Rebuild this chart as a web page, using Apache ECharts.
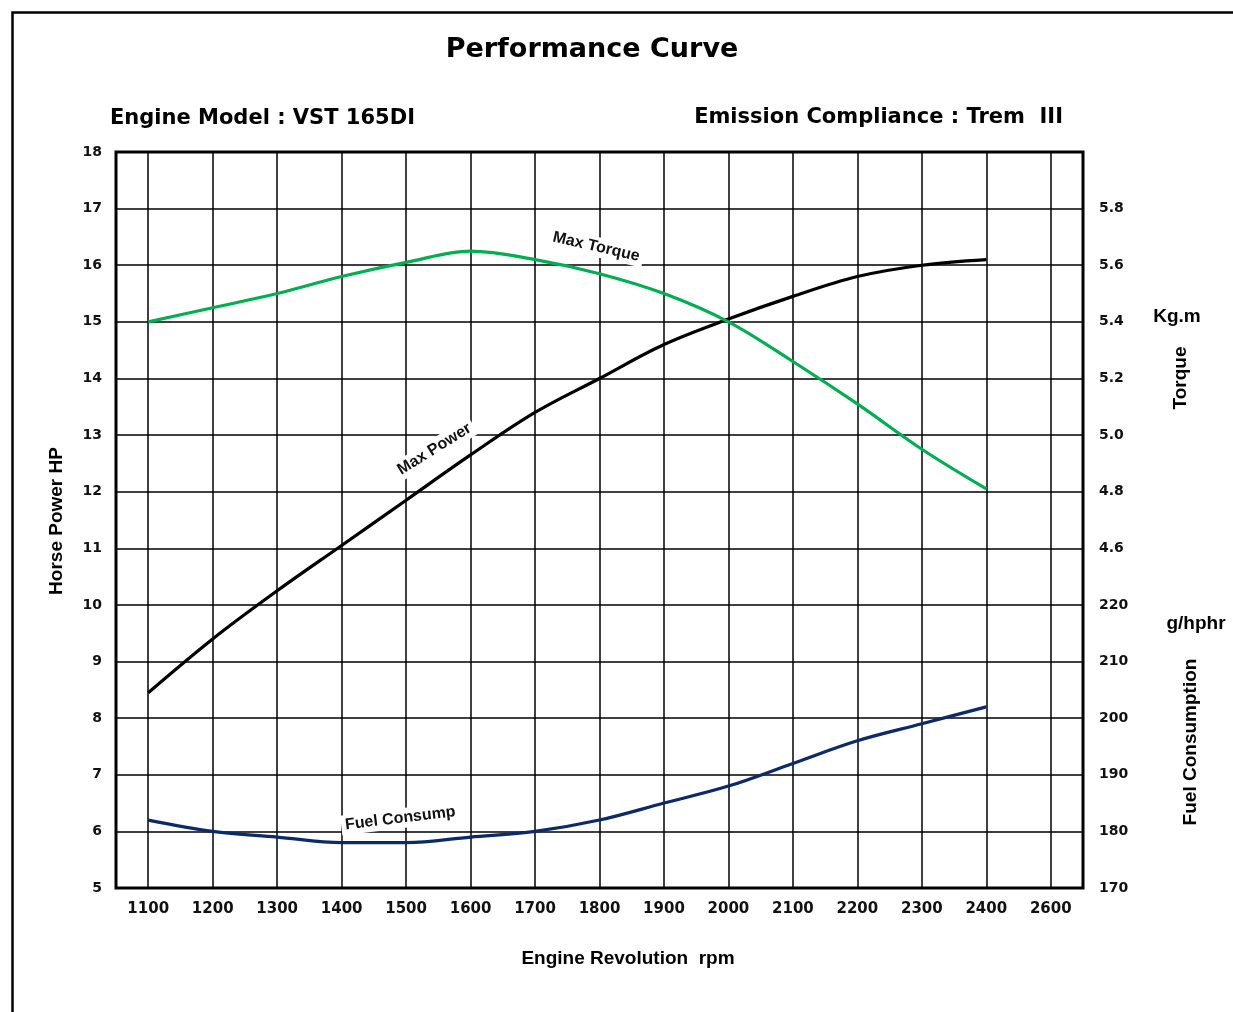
<!DOCTYPE html>
<html>
<head>
<meta charset="utf-8">
<script src="https://cdn.jsdelivr.net/npm/echarts@6/dist/echarts.min.js"></script>
<style>html,body{margin:0;padding:0;background:#fff}#c{width:1233px;height:1012px}</style>
</head>
<body>
<div id="c"></div>
<script>
const rpm = [1100, 1200, 1300, 1400, 1500, 1600, 1700, 1800, 1900, 2000, 2100, 2200, 2300, 2400];
const maxPowerHP = [8.45, 9.4, 10.25, 11.05, 11.85, 12.65, 13.4, 14.0, 14.6, 15.05, 15.45, 15.8, 16.0, 16.1];
const maxTorqueKgm = [5.40, 5.45, 5.50, 5.56, 5.61, 5.65, 5.62, 5.57, 5.50, 5.40, 5.26, 5.11, 4.95, 4.81];
const fuelGphphr = [182, 180, 179, 178, 178, 179, 180, 182, 185, 188, 192, 196, 199, 202];
const rpmTicks = [1100, 1200, 1300, 1400, 1500, 1600, 1700, 1800, 1900, 2000, 2100, 2200, 2300, 2400, 2500];
const rpmTickText = ['1100', '1200', '1300', '1400', '1500', '1600', '1700', '1800', '1900', '2000', '2100', '2200', '2300', '2400', '2600'];
const torqueLabels = [4.6, 4.8, 5.0, 5.2, 5.4, 5.6, 5.8];
const fuelLabels = [170, 180, 190, 200, 210, 220];

const pair = (xs, ys) => xs.map((x, i) => [x, ys[i]]);
const axisFont = { fontFamily: 'DejaVu Sans', fontWeight: 'bold', fontSize: 14, color: '#111' };
const curveLabel = (text, rot) => ({
  show: true, position: 'inside', formatter: text, rotate: rot,
  fontFamily: 'Liberation Sans', fontWeight: 'bold', fontSize: 16, color: '#111',
  backgroundColor: '#fff', padding: [2, 4]
});
const nameFont = 'bold 19px "Liberation Sans"';

const chart = echarts.init(document.getElementById('c'), null, { renderer: 'canvas' });
chart.setOption({
  backgroundColor: '#fff',
  animation: false,
  grid: { left: 116, right: 150, top: 152, bottom: 124, show: true, borderColor: '#000', borderWidth: 3, backgroundColor: 'transparent', z: 5 },
  xAxis: {
    type: 'value', min: 1050, max: 2550,
    axisLine: { show: false },
    axisTick: { show: false, customValues: rpmTicks },
    splitLine: { show: true, lineStyle: { color: '#000', width: 1.5 } },
    axisLabel: {
      customValues: rpmTicks, margin: 14, ...axisFont, fontSize: 15,
      formatter: v => { const i = rpmTicks.indexOf(Math.round(v)); return i >= 0 ? rpmTickText[i] : ''; }
    }
  },
  yAxis: [
    {
      type: 'value', min: 5, max: 18, interval: 1, position: 'left',
      axisLine: { show: false }, axisTick: { show: false },
      splitLine: { show: true, lineStyle: { color: '#000', width: 1.5 } },
      axisLabel: { margin: 14, ...axisFont }
    },
    {
      type: 'value', min: 3.4, max: 6.0, interval: 0.2, position: 'right',
      axisLine: { show: false }, axisTick: { show: false }, splitLine: { show: false },
      axisLabel: {
        margin: 16, ...axisFont,
        formatter: v => torqueLabels.some(t => Math.abs(t - v) < 1e-6) ? v.toFixed(1) : ''
      }
    },
    {
      type: 'value', min: 170, max: 300, interval: 10, position: 'right',
      axisLine: { show: false }, axisTick: { show: false }, splitLine: { show: false },
      axisLabel: {
        margin: 16, ...axisFont,
        formatter: v => fuelLabels.indexOf(Math.round(v)) >= 0 ? String(Math.round(v)) : ''
      }
    }
  ],
  series: [
    {
      name: 'Max Power', type: 'line', yAxisIndex: 0, data: pair(rpm, maxPowerHP),
      smooth: 0.35, symbol: 'none', lineStyle: { color: '#000', width: 3.2 }, z: 3,
      markPoint: { symbol: 'circle', symbolSize: 1, itemStyle: { color: 'rgba(0,0,0,0)' },
        data: [{ coord: [1544, 12.75], label: curveLabel('Max Power', 32) }] }
    },
    {
      name: 'Max Torque', type: 'line', yAxisIndex: 1, data: pair(rpm, maxTorqueKgm),
      smooth: 0.35, symbol: 'none', lineStyle: { color: '#00b050', width: 3.2 }, z: 3,
      markPoint: { symbol: 'circle', symbolSize: 1, itemStyle: { color: 'rgba(0,0,0,0)' },
        data: [{ coord: [1795, 5.665], label: curveLabel('Max Torque', -13) }] }
    },
    {
      name: 'Fuel Consump', type: 'line', yAxisIndex: 2, data: pair(rpm, fuelGphphr),
      smooth: 0.35, symbol: 'none', lineStyle: { color: '#0b2a6b', width: 3.2 }, z: 3,
      markPoint: { symbol: 'circle', symbolSize: 1, itemStyle: { color: 'rgba(0,0,0,0)' },
        data: [{ coord: [1491, 182.3], label: curveLabel('Fuel Consump', 7) }] }
    }
  ],
  graphic: [
    { type: 'rect', left: 10, top: 10, shape: { width: 1300, height: 1100 }, style: { fill: 'none', stroke: '#000', lineWidth: 2.5 }, silent: true },
    { type: 'text', x: 592, y: 50, style: { text: 'Performance Curve', font: 'bold 27px "DejaVu Sans"', fill: '#000', textAlign: 'center', textVerticalAlign: 'middle' } },
    { type: 'text', x: 110, y: 119, style: { text: 'Engine Model : VST 165DI', font: 'bold 21px "DejaVu Sans"', fill: '#000', textAlign: 'left', textVerticalAlign: 'middle' } },
    { type: 'text', x: 1063, y: 118, style: { text: 'Emission Compliance : Trem  III', font: 'bold 21px "DejaVu Sans"', fill: '#000', textAlign: 'right', textVerticalAlign: 'middle' } },
    { type: 'text', x: 628, y: 959, style: { text: 'Engine Revolution  rpm', font: nameFont, fill: '#000', textAlign: 'center', textVerticalAlign: 'middle' } },
    { type: 'text', x: 57, y: 521, rotation: Math.PI / 2, style: { text: 'Horse Power HP', font: nameFont, fill: '#000', textAlign: 'center', textVerticalAlign: 'middle' } },
    { type: 'text', x: 1177, y: 317, style: { text: 'Kg.m', font: nameFont, fill: '#000', textAlign: 'center', textVerticalAlign: 'middle' } },
    { type: 'text', x: 1181, y: 378, rotation: Math.PI / 2, style: { text: 'Torque', font: nameFont, fill: '#000', textAlign: 'center', textVerticalAlign: 'middle' } },
    { type: 'text', x: 1196, y: 624, style: { text: 'g/hphr', font: nameFont, fill: '#000', textAlign: 'center', textVerticalAlign: 'middle' } },
    { type: 'text', x: 1191, y: 742, rotation: Math.PI / 2, style: { text: 'Fuel Consumption', font: nameFont, fill: '#000', textAlign: 'center', textVerticalAlign: 'middle' } }
  ]
});
</script>
</body>
</html>
